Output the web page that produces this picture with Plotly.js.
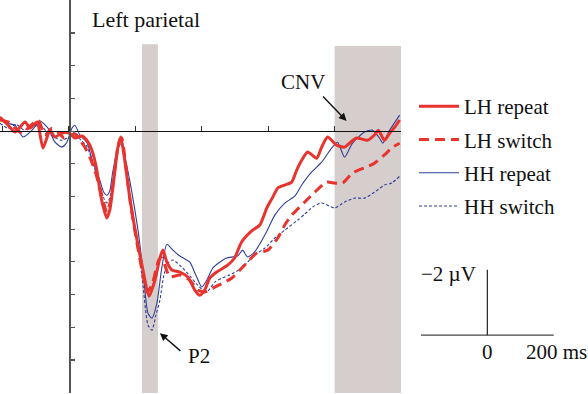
<!DOCTYPE html>
<html>
<head>
<meta charset="utf-8">
<script src="https://cdn.plot.ly/plotly-3.0.1.min.js"></script>
<style>html,body{margin:0;padding:0;background:#fff;}#chart{width:588px;height:394px;}</style>
</head>
<body>
<div id="chart"></div>
<script>
// ---- data (time in ms, amplitude in µV; positive plotted downward) ----
const seriesNames = ['LH repeat', 'LH switch', 'HH repeat', 'HH switch'];

const tLHrep = [-208,-183,-162,-132,-117,-96,-78,-57,-42,-21,0,18,39,54,69,84,93,102,114,123,135,147,156,168,183,205,223,241,259,274,283,295,310,334,358,379,394,409,424,445,478,499,520,553,575,596,614,629,650,671,686,701,719,746,761,779,806,830,845,866,899,920,932,950,966,981,996];
const vLHrep = [-0.43,-0.18,0.03,-0.28,-0.09,-0.28,0.52,-0.03,0.18,0.06,0.06,0.21,0.15,0.28,0.58,1.19,1.80,2.26,2.66,2.42,1.50,0.52,0.18,0.89,2.02,3.33,4.25,5.05,4.56,3.88,3.64,4.01,4.25,4.31,4.46,4.86,5.02,4.86,4.50,4.31,4.10,3.88,3.39,3.03,2.87,2.35,2.02,1.74,1.65,1.56,1.19,0.89,0.64,0.83,0.49,0.18,0.43,0.49,0.37,0.21,0.28,0.12,-0.03,0.28,0.06,-0.12,-0.34];

const tLHsw = [-208,-183,-162,-141,-117,-93,-72,-51,-33,-15,0,18,33,48,63,78,93,105,114,126,138,150,159,171,186,205,223,235,250,262,271,280,292,304,334,364,388,409,439,463,490,529,566,599,629,650,671,695,710,740,776,800,824,854,896,920,950,975,996];
const vLHsw = [-0.34,-0.28,-0.09,0.06,-0.15,-0.34,0.12,-0.09,0.03,0.21,0.15,0.09,0.28,0.49,0.80,1.19,1.74,2.20,2.48,2.11,1.19,0.37,0.21,1.04,2.26,3.43,4.40,4.92,4.71,4.25,3.94,3.88,4.19,4.46,4.40,4.56,4.86,4.92,4.77,4.65,4.50,4.10,3.73,3.64,3.27,2.87,2.57,2.32,2.17,1.87,1.56,1.59,1.59,1.28,1.10,0.98,0.73,0.49,0.37];

const tHHrep = [-208,-186,-162,-138,-111,-87,-63,-42,-21,-6,9,18,33,54,72,93,105,114,123,132,147,159,171,183,208,223,238,250,265,280,295,313,334,364,382,400,415,433,454,475,508,523,538,559,590,620,650,680,701,731,761,791,809,830,854,890,914,935,945,966,996];
const vHHrep = [-0.34,-0.24,-0.18,0.18,-0.03,-0.31,-0.09,0.34,0.49,0.34,-0.09,-0.18,0.12,0.34,0.95,1.50,1.87,1.96,1.83,1.25,0.52,0.28,0.89,1.50,3.03,4.25,5.57,5.72,5.26,4.16,3.46,3.64,3.82,4.01,4.40,4.77,4.56,4.19,4.01,3.88,3.82,3.64,3.85,3.70,3.18,2.57,2.20,1.99,1.65,1.25,0.95,0.52,0.34,0.80,0.37,0.03,-0.03,0.21,0.37,-0.03,-0.49];

const tHHsw = [-208,-183,-159,-135,-111,-87,-63,-39,-21,0,18,36,54,72,93,105,114,123,135,147,159,171,186,208,223,238,250,262,274,286,298,313,340,364,385,403,418,439,460,484,520,559,590,620,650,689,710,734,761,800,830,860,890,920,950,972,996];
const vHHsw = [-0.24,-0.09,-0.21,-0.03,-0.12,-0.18,0.06,0.21,0.28,0.18,0.03,0.28,0.46,0.98,1.65,2.05,2.20,2.05,1.35,0.58,0.34,1.04,2.11,3.49,4.71,5.93,6.09,5.63,5.17,4.40,4.04,3.94,4.16,4.43,4.68,4.86,4.89,4.62,4.50,4.40,4.19,3.79,3.58,3.27,3.03,2.72,2.54,2.32,2.20,2.35,2.17,2.05,2.05,1.87,1.65,1.59,1.38];

// shaded analysis windows (ms) and their upper edge (µV)
const windowStart = [220, 800];
const windowEnd = [268, 1000];
const windowTop = [-2.66, -2.6];

// labelled components: [time ms, µV] of arrow tip
const compLabels = ['P2', 'CNV'];
const compT = [274, 836];
const compV = [6.18, -0.31];

// scale bar values
const scaleMs = 200;
const scaleUv = 2;
const scaleLabelV = '\u22122 \u00b5V';
const scaleLabel0 = '0';
const scaleLabelT = '200 ms';
const panelTitle = 'Left parietal';

// ---- styling / layout ----
const RED = '#e8332e', BLUE = '#2f3f98';
const FONT = 'Liberation Serif, Times New Roman, serif';
const xRange = [-207.5, 1000];
const yRange = [8.01, -4.01];
const W = 588, H = 394, PW = 401, PH = 393;
function pxX(t) { return (t - xRange[0]) / (xRange[1] - xRange[0]); }
function pxY(v) { return (v - yRange[0]) / (yRange[1] - yRange[0]); }
// paper coords from pixel positions (for free text)
function ppx(x) { return x / PW; }
function ppy(y) { return (PH - y) / PH; }

const styles = [
  {color: RED, width: 3, dash: 'solid'},
  {color: RED, width: 3, dash: '10px,6px'},
  {color: BLUE, width: 1.1, dash: 'solid'},
  {color: BLUE, width: 1.1, dash: '3px,2px'}
];
const xs = [tLHrep, tLHsw, tHHrep, tHHsw];
const ys = [vLHrep, vLHsw, vHHrep, vHHsw];
const order = [3, 2, 1, 0];
const traces = order.map(i => ({
  type: 'scatter', mode: 'lines', x: xs[i], y: ys[i], name: seriesNames[i],
  legendgroup: 'g' + i, legendrank: i + 1,
  line: Object.assign({shape: 'spline', smoothing: 0.6}, styles[i]),
  hoverinfo: 'skip'
}));

const shapes = windowStart.map((s, k) => ({
  type: 'rect', xref: 'x', yref: 'y', x0: s, x1: windowEnd[k], y0: windowTop[k], y1: yRange[0],
  fillcolor: '#d5cecc', line: {width: 0}, layer: 'below'
}));
// scale bar (origin placed to the right of the plotting area, same scale as axes)
const sbT = 1260, sbV = 6.24;
shapes.push({type: 'line', xref: 'paper', yref: 'paper', x0: pxX(sbT - scaleMs), x1: pxX(sbT + scaleMs), y0: pxY(sbV), y1: pxY(sbV), line: {color: '#444', width: 1.2}});
shapes.push({type: 'line', xref: 'paper', yref: 'paper', x0: pxX(sbT), x1: pxX(sbT), y0: pxY(sbV), y1: pxY(sbV - scaleUv), line: {color: '#222', width: 1.2}});

const tf = {family: FONT, size: 21, color: '#111'};
const annotations = [
  {text: panelTitle, xref: 'paper', yref: 'paper', x: ppx(146), y: ppy(19), xanchor: 'center', yanchor: 'middle', showarrow: false, font: {family: FONT, size: 22, color: '#111'}},
  {text: compLabels[1], xref: 'paper', yref: 'paper', x: ppx(303), y: ppy(82), xanchor: 'center', yanchor: 'middle', showarrow: false, font: tf},
  {text: compLabels[0], xref: 'paper', yref: 'paper', x: ppx(199), y: ppy(356), xanchor: 'center', yanchor: 'middle', showarrow: false, font: tf},
  {text: ' ', x: compT[1], y: compV[1], xref: 'x', yref: 'y', ax: -25, ay: -26, showarrow: true, arrowhead: 2, arrowsize: 1.1, arrowwidth: 1.4, arrowcolor: '#111', standoff: 0, startstandoff: 0, font: {size: 1}},
  {text: ' ', x: compT[0], y: compV[0], xref: 'x', yref: 'y', ax: 22, ay: 19, showarrow: true, arrowhead: 2, arrowsize: 1.1, arrowwidth: 1.4, arrowcolor: '#111', standoff: 0, startstandoff: 0, font: {size: 1}},
  {text: scaleLabelV, xref: 'paper', yref: 'paper', x: pxX(sbT - 28), y: pxY(sbV - scaleUv + 0.12), xanchor: 'right', yanchor: 'middle', showarrow: false, font: tf},
  {text: scaleLabel0, xref: 'paper', yref: 'paper', x: pxX(sbT), y: pxY(sbV + 0.52), xanchor: 'center', yanchor: 'middle', showarrow: false, font: tf},
  {text: scaleLabelT, xref: 'paper', yref: 'paper', x: pxX(sbT + scaleMs + 8), y: pxY(sbV + 0.52), xanchor: 'center', yanchor: 'middle', showarrow: false, font: tf}
];

const layout = {
  width: W, height: H,
  margin: {l: 0, r: W - PW, t: 0, b: H - PH, pad: 0},
  paper_bgcolor: '#fff', plot_bgcolor: 'rgba(0,0,0,0)',
  font: {family: FONT, size: 21, color: '#111'},
  showlegend: true,
  legend: {x: ppx(414), y: ppy(86), xanchor: 'left', yanchor: 'top', bgcolor: 'rgba(0,0,0,0)',
           font: {family: FONT, size: 21, color: '#111'}, traceorder: 'grouped', tracegroupgap: 3, itemwidth: 40},
  xaxis: {range: xRange, anchor: 'free', position: pxY(0), showgrid: false, zeroline: false,
          showline: true, linecolor: '#111', linewidth: 1.2, ticks: 'inside', ticklen: 5, tickwidth: 1.2, tickcolor: '#333',
          tick0: -200, dtick: 200, showticklabels: false, fixedrange: true},
  yaxis: {range: yRange, anchor: 'free', position: pxX(0), showgrid: false, zeroline: false,
          showline: true, linecolor: '#555', linewidth: 1.8, ticks: 'inside', ticklen: 4, tickwidth: 1.2, tickcolor: '#555',
          tick0: 0, dtick: 1, showticklabels: false, fixedrange: true},
  shapes: shapes, annotations: annotations
};

Plotly.newPlot('chart', traces, layout, {staticPlot: true, displayModeBar: false});
</script>
</body>
</html>
